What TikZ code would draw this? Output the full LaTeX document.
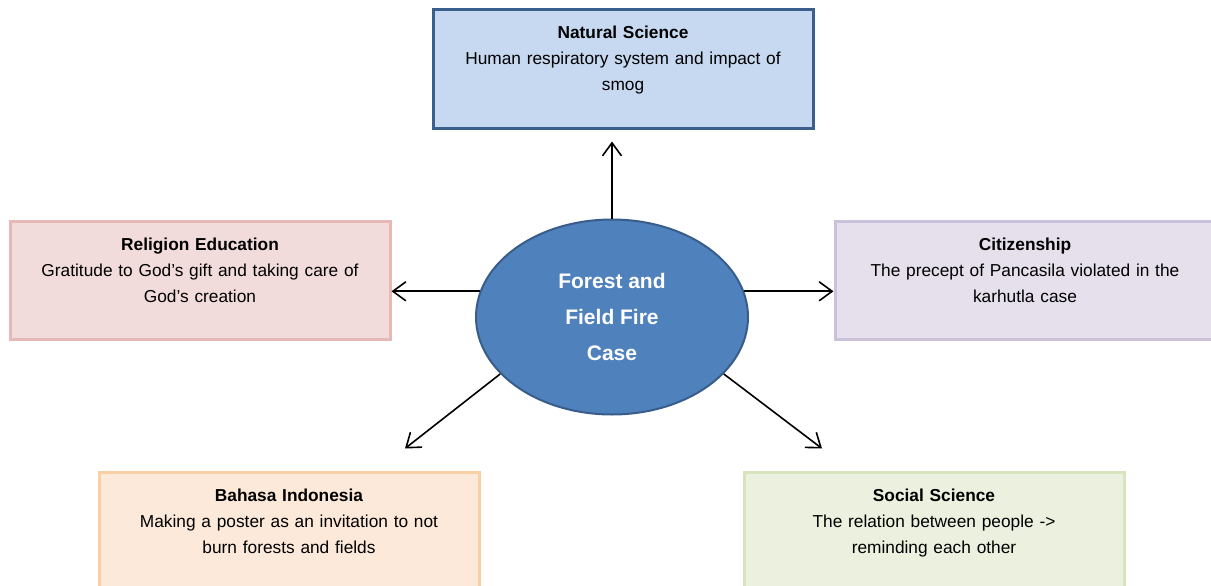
\documentclass[tikz,border=0pt]{standalone}
\usepackage{fontspec}
\setmainfont{Liberation Sans}
\usepackage{tikz}
\usetikzlibrary{positioning,shapes.geometric,arrows.meta}

\definecolor{natfill}{HTML}{C6D9F1}
\definecolor{natdraw}{HTML}{3A5F8C}
\definecolor{relfill}{HTML}{F2DCDB}
\definecolor{reldraw}{HTML}{E6B9B8}
\definecolor{citfill}{HTML}{E5E0EC}
\definecolor{citdraw}{HTML}{CCC1DA}
\definecolor{bahfill}{HTML}{FDE9D9}
\definecolor{bahdraw}{HTML}{F9CFA6}
\definecolor{socfill}{HTML}{EBF1DE}
\definecolor{socdraw}{HTML}{D7E4BD}
\definecolor{firefill}{HTML}{4F81BD}
\definecolor{firedraw}{HTML}{385D8A}

\begin{document}
\begin{tikzpicture}[x=1pt, y=1pt,
			subjectbox/.style={rectangle, minimum width=380pt, text width=370pt, align=center, inner xsep=5pt, inner ysep=0pt, text height=29pt, text depth=89pt, line width=3pt, font=\fontsize{17.3}{26}\selectfont},
			casenode/.style={ellipse, minimum width=272pt, minimum height=195pt, inner sep=0pt, align=center, fill=firefill, draw=firedraw, line width=2pt, text=white, font=\bfseries\fontsize{21}{36}\selectfont},
			arrow/.style={line width=1.6pt, -{Straight Barb[length=13pt,width=19pt]}},
		]
		\useasboundingbox (0,0) rectangle (1211,-586);

			%Nodes
			\node[casenode]				(fire)	at (612,-317)	{Forest and\\Field Fire\\Case};
			\node[subjectbox, fill=natfill, draw=natdraw]	(nat)	at (623,-69)	{\textbf{Natural Science}\\Human respiratory system and impact of\\smog};
			\node[subjectbox, fill=relfill, draw=reldraw]	(rel)	at (200,-280)	{\textbf{Religion Education}\\Gratitude to God’s gift and taking care of\\God’s creation};
			\node[subjectbox, fill=citfill, draw=citdraw]	(cit)	at (1025,-280)	{\textbf{Citizenship}\\The precept of Pancasila violated in the\\karhutla case};
			\node[subjectbox, fill=bahfill, draw=bahdraw]	(bah)	at (289,-531)	{\textbf{Bahasa Indonesia}\\Making a poster as an invitation to not\\burn forests and fields};
			\node[subjectbox, fill=socfill, draw=socdraw]	(soc)	at (934,-531)	{\textbf{Social Science}\\The relation between people ->\\reminding each other};

			%Lines
			\draw[arrow]	(fire.north) -- ([yshift=-12pt]nat.south -| fire.north);
			\draw[arrow]	(fire.169) -- (fire.169 -| rel.east);
			\draw[arrow]	(fire.11) -- (fire.11 -| cit.west);
			\draw[arrow]	(fire.207) -- ([shift={(116pt,22pt)}]bah.north);
			\draw[arrow]	(fire.333) -- ([shift={(-112pt,22pt)}]soc.north);

		\end{tikzpicture}
\end{document}
